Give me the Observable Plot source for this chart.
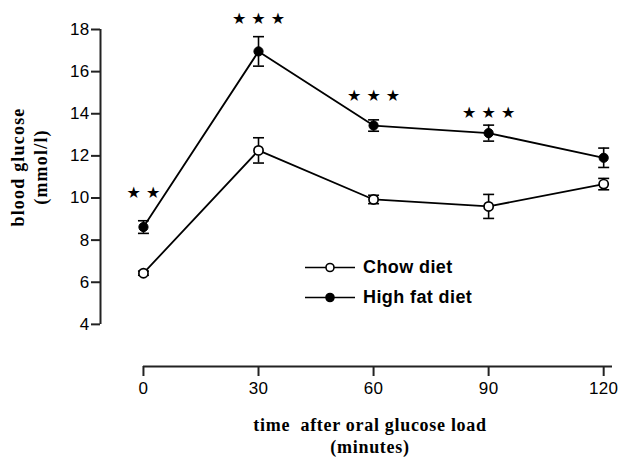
<!DOCTYPE html>
<html>
<head>
<meta charset="utf-8">
<script src="https://cdn.jsdelivr.net/npm/d3@7"></script>
<script src="https://cdn.jsdelivr.net/npm/@observablehq/plot@0.6"></script>
<style>
  html, body { margin: 0; padding: 0; background: #fff; }
  #wrap { position: relative; width: 619px; height: 457px; }
  .ttl { position: absolute; font-family: "Liberation Serif", "Times New Roman", serif; font-weight: bold; font-size: 18px; color: #000; white-space: pre; text-align: center; letter-spacing: 0.7px; }
  .leg { position: absolute; font-family: "Liberation Sans", Arial, sans-serif; font-weight: bold; font-size: 18px; color: #000; display: flex; align-items: center; letter-spacing: 0.4px; }
  svg.plotchart g[aria-label="y-axis tick label"] text, svg.plotchart g[aria-label="x-axis tick label"] text { letter-spacing: 0.3px; }
</style>
</head>
<body>
<div id="wrap"></div>
<script>
// ---- data ----
const times = [0, 30, 60, 90, 120];
const chowMean = [6.43, 12.26, 9.93, 9.60, 10.66];
const chowErr  = [0.10, 0.60, 0.20, 0.57, 0.27];
const hfMean   = [8.62, 16.96, 13.44, 13.08, 11.91];
const hfErr    = [0.30, 0.70, 0.27, 0.38, 0.46];
const starTimes  = [0, 30, 60, 90];
const starLabels = ["★ ★", "★ ★ ★", "★ ★ ★", "★ ★ ★"];
const starY      = [10.25, 18.5, 14.85, 14.05];
const xTicks = [0, 30, 60, 90, 120];
const yTicks = [4, 6, 8, 10, 12, 14, 16, 18];
const seriesNames = ["Chow diet", "High fat diet"];
const xDomain = [-11.2, 122.3];
const yDomain = [2, 18];

const rows = [];
times.forEach((t, i) => {
  rows.push({t, mean: chowMean[i], err: chowErr[i], series: seriesNames[0]});
  rows.push({t, mean: hfMean[i], err: hfErr[i], series: seriesNames[1]});
});
const stars = starTimes.map((t, i) => ({t, label: starLabels[i], y: starY[i]}));

const capSymbol = {
  draw(context, size) {
    const r = Math.sqrt(size / Math.PI);
    context.moveTo(-r, 0);
    context.lineTo(r, 0);
  }
};

const chart = Plot.plot({
  className: "plotchart",
  width: 619, height: 457,
  marginTop: 29, marginBottom: 91, marginLeft: 100, marginRight: 7,
  x: {domain: xDomain},
  y: {domain: yDomain},
  style: {fontFamily: "'Liberation Sans', Arial, sans-serif", fontSize: "17px", color: "black", background: "white"},
  marks: [
    Plot.axisY({ticks: yTicks, tickSize: 9, tickPadding: 2, label: null, fontSize: 17, stroke: "#222", strokeWidth: 2}),
    Plot.axisX({ticks: xTicks, tickSize: 10, tickPadding: 5, label: null, fontSize: 17, stroke: "#222", strokeWidth: 2}),
    Plot.ruleX([xDomain[0]], {y1: yTicks[0], y2: yTicks[yTicks.length - 1], stroke: "#222", strokeWidth: 2}),
    Plot.ruleY([yDomain[0]], {x1: xTicks[0], x2: xDomain[1], stroke: "#222", strokeWidth: 2}),
    Plot.line(rows, {x: "t", y: "mean", z: "series", stroke: "black", strokeWidth: 1.8}),
    Plot.ruleX(rows, {x: "t", y1: d => d.mean - d.err, y2: d => d.mean + d.err, stroke: "black", strokeWidth: 1.6}),
    Plot.dot(rows, {x: "t", y: d => d.mean - d.err, symbol: capSymbol, r: 5.5, stroke: "black", strokeWidth: 1.6}),
    Plot.dot(rows, {x: "t", y: d => d.mean + d.err, symbol: capSymbol, r: 5.5, stroke: "black", strokeWidth: 1.6}),
    Plot.dot(rows.filter(d => d.series === seriesNames[0]), {x: "t", y: "mean", r: 4.6, fill: "white", stroke: "black", strokeWidth: 1.7}),
    Plot.dot(rows.filter(d => d.series === seriesNames[1]), {x: "t", y: "mean", r: 4.6, fill: "black", stroke: "black", strokeWidth: 1}),
    Plot.text(stars, {x: "t", y: "y", text: "label", fontFamily: "DejaVu Sans", fontSize: 16, fill: "black", textAnchor: "middle", lineAnchor: "middle"})
  ]
});

const wrap = document.getElementById("wrap");
wrap.appendChild(chart);

// y title
const yt = document.createElement("div");
yt.className = "ttl";
yt.textContent = "blood glucose\n(mmol/l)";
yt.style.lineHeight = "23px";
yt.style.letterSpacing = "1.2px";
yt.style.left = "30px";
yt.style.top = "167px";
yt.style.transform = "translate(-50%, -50%) rotate(-90deg)";
wrap.appendChild(yt);

// x title
const xt = document.createElement("div");
xt.className = "ttl";
xt.textContent = "time  after oral glucose load\n(minutes)";
xt.style.lineHeight = "22px";
xt.style.left = "370px";
xt.style.top = "436px";
xt.style.transform = "translate(-50%, -50%)";
wrap.appendChild(xt);

// legend
function legendItem(name, filled, top) {
  const d = document.createElement("div");
  d.className = "leg";
  d.style.left = "305px";
  d.style.top = top + "px";
  d.style.transform = "translateY(-50%)";
  const ns = "http://www.w3.org/2000/svg";
  const s = document.createElementNS(ns, "svg");
  s.setAttribute("width", "58"); s.setAttribute("height", "14");
  const l = document.createElementNS(ns, "line");
  l.setAttribute("x1", "0"); l.setAttribute("x2", "50"); l.setAttribute("y1", "7"); l.setAttribute("y2", "7");
  l.setAttribute("stroke", "black"); l.setAttribute("stroke-width", "1.6");
  const c = document.createElementNS(ns, "circle");
  c.setAttribute("cx", "25"); c.setAttribute("cy", "7"); c.setAttribute("r", "4");
  c.setAttribute("fill", filled ? "black" : "white"); c.setAttribute("stroke", "black"); c.setAttribute("stroke-width", "1.6");
  s.appendChild(l); s.appendChild(c);
  const span = document.createElement("span");
  span.textContent = name;
  d.appendChild(s); d.appendChild(span);
  wrap.appendChild(d);
}
legendItem(seriesNames[0], false, 267);
legendItem(seriesNames[1], true, 297);
</script>
</body>
</html>
